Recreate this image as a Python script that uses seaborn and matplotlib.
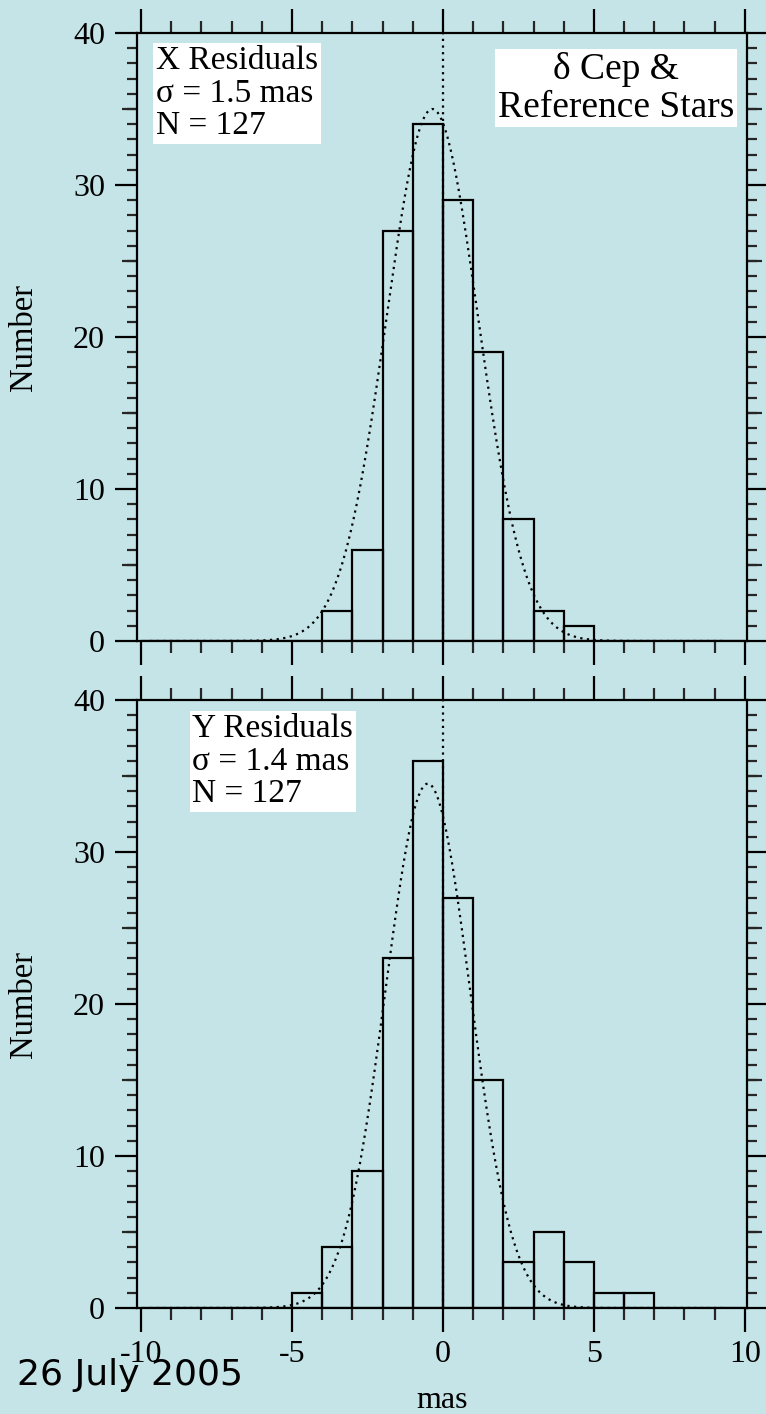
import numpy as np
import pandas as pd
import matplotlib
matplotlib.use("Agg")
import matplotlib.pyplot as plt
import seaborn as sns

# ---------------- data ----------------
bin_edges = list(range(-10, 11))
x_counts = [0, 0, 0, 0, 0, 0, 2, 6, 27, 34, 29, 19, 8, 2, 1, 0, 0, 0, 0, 0]
y_counts = [0, 0, 0, 0, 0, 1, 4, 9, 23, 36, 27, 15, 3, 5, 3, 1, 1, 0, 0, 0]
# gaussian fit parameters (amplitude, centre, sigma)
x_fit = (35.0, -0.35, 1.52)
y_fit = (34.5, -0.50, 1.40)
fit_range = (-9.7, 9.3)
x_label_text = "X Residuals\nσ = 1.5 mas\nN = 127"
y_label_text = "Y Residuals\nσ = 1.4 mas\nN = 127"
title_text = "δ Cep &\nReference Stars"
date_text = "26 July 2005"
x_ticks = [-10, -5, 0, 5, 10]
y_ticks = [0, 10, 20, 30, 40]

BG = "#C5E4E7"
sns.set_theme(style="ticks")
plt.rcParams["font.family"] = ["Liberation Serif", "DejaVu Serif"]
plt.rcParams["axes.unicode_minus"] = False
plt.rcParams["text.color"] = "black"
plt.rcParams["axes.labelcolor"] = "black"

fig = plt.figure(figsize=(7.66, 14.14), dpi=100, facecolor=BG)
W, H = 766, 1414
ax_top = fig.add_axes([137 / W, 1 - 641 / H, 610 / W, 608 / H])
ax_bot = fig.add_axes([137 / W, 1 - 1308 / H, 610 / W, 608 / H])

centers = [(bin_edges[i] + bin_edges[i + 1]) / 2 for i in range(len(bin_edges) - 1)]


def gauss_df(params):
    a, mu, s = params
    xs = np.linspace(fit_range[0], fit_range[1], 400)
    return pd.DataFrame({"x": xs, "y": a * np.exp(-0.5 * ((xs - mu) / s) ** 2)})


def draw_panel(ax, counts, fit, show_xlabels):
    ax.set_facecolor(BG)
    sns.histplot(x=centers, weights=counts, bins=bin_edges, fill=False,
                 color="black", linewidth=1.6, element="bars", ax=ax)
    df = gauss_df(fit)
    sns.lineplot(data=df, x="x", y="y", ax=ax, color="black",
                 linewidth=1.6, linestyle=(0, (1, 2)))
    ax.axvline(0, color="black", linewidth=1.6, linestyle=(0, (1, 2)))
    ax.set_xlim(-10.13, 10.07)
    ax.set_ylim(0, 40)
    ax.set_xticks(x_ticks)
    ax.set_xticks(range(-10, 11), minor=True)
    ax.set_yticks(y_ticks)
    ax.set_yticks(range(0, 41), minor=True)
    for sp in ax.spines.values():
        sp.set_visible(True)
        sp.set_linewidth(1.6)
        sp.set_color("black")
    ax.tick_params(axis="x", which="major", direction="out", length=17, width=1.6,
                   top=True, bottom=True, labelsize=23, pad=6,
                   labelbottom=show_xlabels, colors="black")
    ax.tick_params(axis="x", which="minor", direction="out", length=8.5, width=1.6,
                   top=True, bottom=True)
    ax.tick_params(axis="y", which="major", direction="out", length=16, width=1.6,
                   left=True, right=True, labelsize=23, pad=7, colors="black")
    ax.tick_params(axis="y", which="minor", direction="out", length=7.5, width=1.6,
                   left=True, right=True)
    for side in ("left", "right"):
        sec = ax.secondary_yaxis(side)
        sec.set_yticks([5, 15, 25, 35])
        sec.tick_params(direction="out", length=11, width=1.6, labelleft=False,
                        labelright=False)
        sec.spines[side].set_visible(False)
        sec.yaxis.set_minor_locator(matplotlib.ticker.NullLocator())
    ax.set_ylabel("Number", fontsize=23.5, color="black")
    ax.yaxis.set_label_coords(-0.16, 0.5)
    ax.set_xlabel("mas" if show_xlabels else "", fontsize=23, labelpad=12,
                  color="black")


draw_panel(ax_top, x_counts, x_fit, False)
draw_panel(ax_bot, y_counts, y_fit, True)

box = dict(facecolor="white", edgecolor="none", pad=2)
ax_top.text(-9.5, 39.15, x_label_text, fontsize=24, ha="left", va="top",
            linespacing=1.08, bbox=box)
ax_top.text(5.73, 38.75, title_text, fontsize=27, ha="center", va="top",
            multialignment="center", linespacing=1.12, bbox=box)
ax_bot.text(-8.3, 39.1, y_label_text, fontsize=24, ha="left", va="top",
            linespacing=1.08, bbox=box)

fig.text(17 / W, 1 - 1385 / H, date_text, fontsize=26, ha="left", va="baseline",
         family=["DejaVu Sans"], color="black")

fig.savefig("out.png", dpi=100, facecolor=BG)
